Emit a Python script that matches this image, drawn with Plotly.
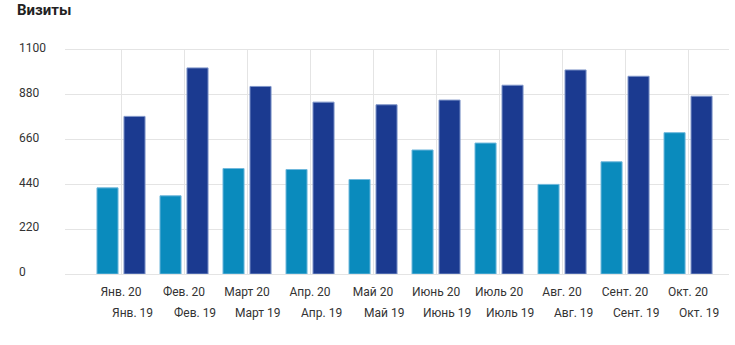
import plotly.graph_objects as go

months_20 = ["Янв. 20", "Фев. 20", "Март 20", "Апр. 20", "Май 20",
             "Июнь 20", "Июль 20", "Авг. 20", "Сент. 20", "Окт. 20"]
months_19 = ["Янв. 19", "Фев. 19", "Март 19", "Апр. 19", "Май 19",
             "Июнь 19", "Июль 19", "Авг. 19", "Сент. 19", "Окт. 19"]
visits_a = [423, 384, 518, 513, 464, 609, 643, 440, 551, 694]
visits_b = [774, 1012, 921, 844, 831, 854, 927, 1002, 971, 873]
y_ticks = [0, 220, 440, 660, 880, 1100]

FONT = "Roboto, Arial, sans-serif"
W, H = 735, 345
ML, MR, MT, MB = 15, 6, 50, 71
plot_left = 65
xdom0 = (plot_left - ML) / (W - ML - MR)

xpos = list(range(len(months_20)))

fig = go.Figure()
fig.add_trace(go.Bar(x=xpos, y=visits_a, name="2020",
                     marker=dict(color="#0a8bbd", line=dict(color="#6fb8dc", width=1))))
fig.add_trace(go.Bar(x=xpos, y=visits_b, name="2019",
                     marker=dict(color="#1b3a90", line=dict(color="#7f95c9", width=1))))

for i, lab in enumerate(months_19):
    fig.add_annotation(x=i + 0.18, y=0, xref="x", yref="paper", yshift=-30,
                       text=lab, showarrow=False, xanchor="center", yanchor="top",
                       font=dict(family=FONT, size=12, color="#333333"))

fig.update_layout(
    width=W, height=H,
    margin=dict(l=ML, r=MR, t=MT, b=MB),
    paper_bgcolor="white", plot_bgcolor="white",
    barmode="group", bargap=0.143, bargroupgap=0.22,
    showlegend=False,
    title=dict(text="<b>Визиты</b>", x=17 / W, xanchor="left", xref="container",
               y=1 - 10 / H, yanchor="middle", yref="container",
               font=dict(family=FONT, size=15, color="#222222")),
    xaxis=dict(domain=[xdom0, 1], range=[-0.889, 9.65],
               tickmode="array", tickvals=xpos, ticktext=months_20,
               showgrid=True, gridcolor="#e4e4e4", gridwidth=1,
               showline=True, linecolor="#e4e4e4", mirror=True,
               zeroline=False, ticks="", ticklabelstandoff=7,
               tickfont=dict(family=FONT, size=12, color="#333333")),
    yaxis=dict(range=[0, 1100], tickmode="array", tickvals=y_ticks,
               anchor="free", position=0, ticklabelposition="inside",
               ticklabeloverflow="allow", ticklabelshift=-2,
               showgrid=True, gridcolor="#e4e4e4", gridwidth=1,
               showline=False, zeroline=False, ticks="",
               tickfont=dict(family=FONT, size=12, color="#333333")),
)

fig.write_html("out.html")
